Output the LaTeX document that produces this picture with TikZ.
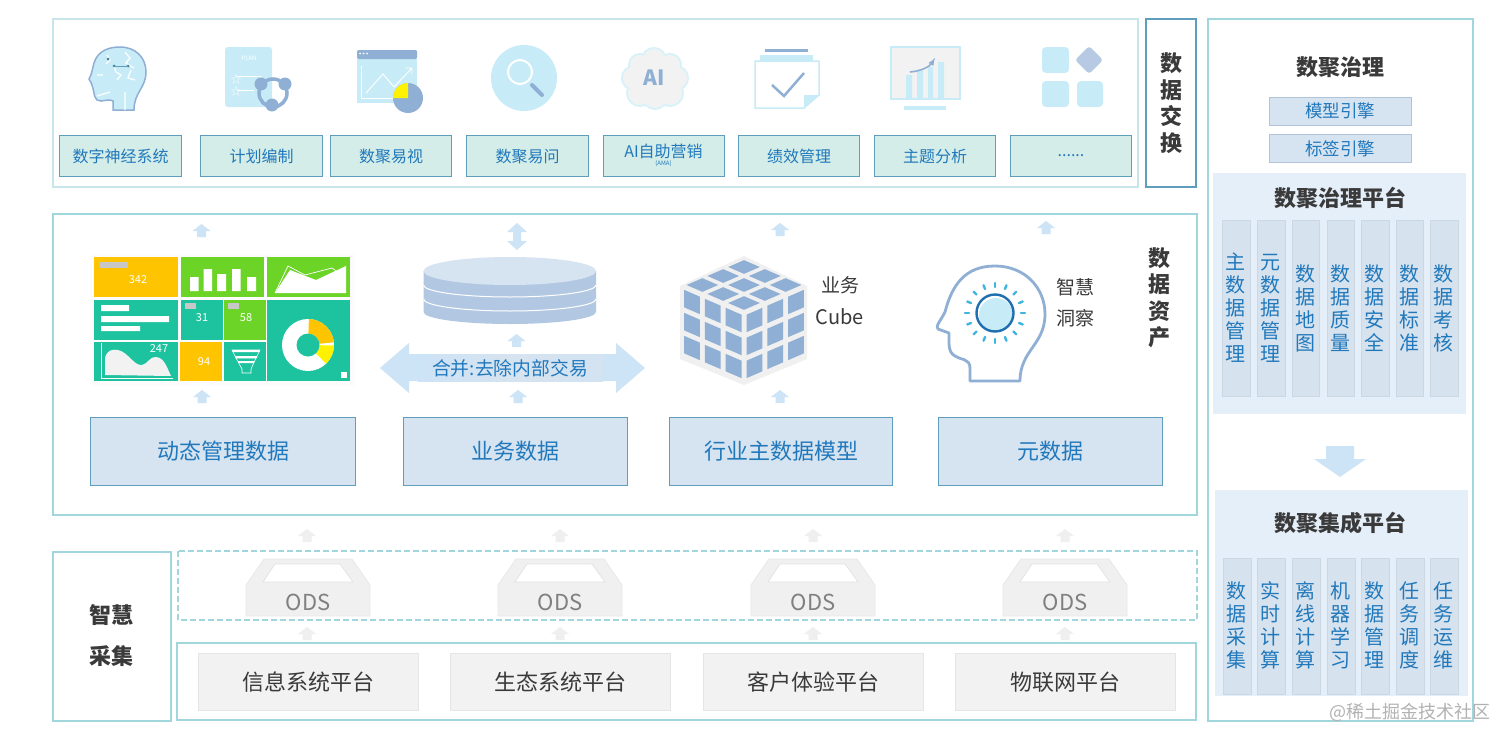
\documentclass[tikz,border=0pt]{standalone}
\usepackage{fontspec}
\setmainfont{Noto Sans CJK SC}
\usetikzlibrary{shadings}
\definecolor{panel}{HTML}{A0D6DC}
\definecolor{panelb}{HTML}{C6E6EA}
\definecolor{boxedge}{HTML}{5E9DBB}
\definecolor{tealfill}{HTML}{D4EDE8}
\definecolor{bluefill}{HTML}{D6E3F0}
\definecolor{bluetxt}{HTML}{2179BC}
\definecolor{dark}{HTML}{3A3A3A}
\definecolor{icon}{HTML}{C8ECF7}
\definecolor{icond}{HTML}{8FAFD4}
\definecolor{arrowb}{HTML}{CDE3F6}
\definecolor{arrowg}{HTML}{EFEFEF}
\definecolor{dyellow}{HTML}{FFC400}
\definecolor{dgreen}{HTML}{6CD427}
\definecolor{dteal}{HTML}{1DC39F}
\definecolor{platbg}{HTML}{E4EFFA}
\definecolor{colfill}{HTML}{D6E2EE}
\definecolor{cyl}{HTML}{B2C8E2}
\definecolor{ray}{HTML}{3DB5E0}
\definecolor{eyering}{HTML}{1F6FB0}
\tikzset{
  panelbox/.style={draw=panel,line width=1.1pt,fill=white},
  topcell/.style={draw=boxedge,line width=1pt,fill=tealfill,text=bluetxt,font=\fontsize{16}{19}\selectfont,minimum height=41pt,inner sep=0pt,anchor=north west},
  datacell/.style={draw=boxedge,line width=1pt,fill=bluefill,text=bluetxt,font=\fontsize{22}{26}\selectfont,minimum height=68pt,inner sep=0pt,anchor=north west},
  platcell/.style={draw=black!10,line width=.8pt,fill=black!5,text=dark,font=\fontsize{22}{26}\selectfont,minimum height=57pt,inner sep=0pt,anchor=north west},
  enginecell/.style={draw=black!10!icond!60!white,line width=1pt,fill=bluefill,text=bluetxt,font=\fontsize{17.5}{21}\selectfont,inner sep=0pt,minimum width=142pt,minimum height=28pt},
  colcell/.style={draw=black!5!colfill,line width=.8pt,fill=colfill,text=bluetxt,font=\fontsize{20}{23}\selectfont,align=center,inner sep=0pt,anchor=north west,minimum width=27.5pt},
  htitle/.style={font=\bfseries\fontsize{22}{26.5}\selectfont,text=dark,align=center,inner sep=0pt},
  plain/.style={text=dark,font=\fontsize{20}{24}\selectfont,inner sep=0pt},
  dnum/.style={text=white,font=\fontsize{11}{13}\selectfont,inner sep=0pt},
  odstxt/.style={text=black!50,font=\fontsize{22}{26}\selectfont,inner sep=0pt},
}
\newcommand\uparrowmark[3]{\fill[#3,shift={(#1,#2)}] (0,-7)--(9,0)--(4.5,0)--(4.5,6)--(-4.5,6)--(-4.5,0)--(-9,0)--cycle;}
\newcommand\odstray[2]{%
  \begin{scope}[shift={(#1,0)}]
    \fill[black!6,draw=black!9,line width=.8pt] (-44,559)--(44,559)--(62,585)--(62,616)--(-62,616)--(-62,585)--cycle;
    \fill[white,draw=black!12,line width=.6pt] (-33,564)--(32,564)--(45,582)--(-45,582)--cycle;
    \node[odstxt] (ods#2) at (0,602) {ODS};
  \end{scope}}
\begin{document}
\begin{tikzpicture}[x=1pt,y=-1pt]
\useasboundingbox (0,0) rectangle (1512,744);
\fill[white] (0,0) rectangle (1512,744);
% ---------- panels
\draw[draw=panelb,line width=1.2pt] (53,19) rectangle (1138,187);
\draw[draw=boxedge,line width=1.2pt] (1146,19) rectangle (1196,187);
\draw[panelbox] (53,214) rectangle (1197,515);
\draw[panelbox] (53,552) rectangle (171,721);
\draw[draw=panel,line width=1.1pt,dashed,dash pattern=on 6pt off 3pt] (178,551) rectangle (1197,620);
\draw[panelbox] (177,643) rectangle (1196,720);
\draw[panelbox] (1208,19) rectangle (1473,721);
% ---------- side titles
\node[htitle] (xch) at (1171,103) {数\\据\\交\\换};
\node[htitle] (asset) at (1159,298) {数\\据\\资\\产};
\node[htitle,font=\bfseries\fontsize{22}{41}\selectfont] (collect) at (111,636) {智慧\\采集};
% ---------- top cells
\node[topcell,minimum width=122pt] (c1) at (59,135) {数字神经系统};
\node[topcell,minimum width=122pt] (c2) at (200,135) {计划编制};
\node[topcell,minimum width=121pt] (c3) at (330,135) {数聚易视};
\node[topcell,minimum width=122pt] (c4) at (466,135) {数聚易问};
\node[topcell,minimum width=121pt] (c5) at (603,135) {};
\node[text=bluetxt,font=\fontsize{16}{19}\selectfont,inner sep=0pt] (c5a) at (663.5,151) {AI自助营销};
\node[text=bluetxt,font=\fontsize{6}{7}\selectfont,inner sep=0pt] (c5b) at (663.5,164) {(AMA)};
\node[topcell,minimum width=121pt] (c6) at (738,135) {绩效管理};
\node[topcell,minimum width=121pt] (c7) at (874,135) {主题分析};
\node[topcell,minimum width=121pt] (c8) at (1010,135) {......};
% ---------- icon 1 head
\draw[fill=icon,draw=icond,line width=1.5pt] (113,110) -- (113,101) .. controls (106,98) and (103,103) .. (97,100)
  .. controls (93,97) and (95,88) .. (89,79) .. controls (92,74) and (92,70) .. (94,63)
  .. controls (98,50) and (110,47) .. (120,47) .. controls (136,47) and (146,58) .. (146,72)
  .. controls (146,88) and (134,92) .. (134,110) -- cycle;
\draw[white,line width=1.2pt] (107,55)--(110,60)--(106,64) (125,52)--(130,58)--(126,63)--(134,68) (114,66)--(116,72)--(121,75)--(117,80) (131,70)--(128,78)--(135,80) (97,75)--(103,75) (125,110)--(125,92) (97,96)--(110,92);
\fill[boxedge!80!black] (108,59) circle (1.5) (114,66) circle (1.5) (128,66) circle (1.5);
\draw[boxedge,line width=.5pt] (114,66)--(128,66);
% ---------- icon 2 plan
\fill[icon,rounded corners=3pt] (225,47) rectangle (272,107);
\node[text=white,font=\fontsize{6}{7}\selectfont,inner sep=0pt] (plan) at (249,58) {PLAN};
\draw[white,line width=.8pt] (237,76)--(262,76) (237,90)--(254,90);
\node[text=white,font=\fontsize{11}{11}\selectfont,inner sep=0pt] (s1) at (236,79) {☆};
\node[text=white,font=\fontsize{11}{11}\selectfont,inner sep=0pt] (s2) at (236,91) {☆};
\draw[icond,line width=3.5pt] (273,93) circle (14);
\fill[icond] (261,84) circle (6.5) (285,84) circle (6.5) (272,105) circle (6.5);
% ---------- icon 3 chart
\fill[icon] (357,50) rectangle (417,103);
\fill[icond,rounded corners=1.5pt] (357,50) rectangle (417,59);
\fill[white] (360,53.5) circle (1) (363.5,53.5) circle (1) (367,53.5) circle (1);
\draw[white,line width=.9pt] (361,66)--(361,98)--(397,98);
\draw[white,line width=.9pt] (366,93)--(383,74)--(394,87)--(412,68) (406,68)--(412,68)--(412,74);
\fill[icond] (408,98) circle (15);
\begin{scope}[shift={(408,98)},x=1pt,y=1pt]
  \fill[yellow] (0,0)--(180:15) arc[start angle=180,end angle=90,radius=15]--cycle;
\end{scope}
% ---------- icon 4 magnifier
\fill[icon] (524,78) circle (33);
\draw[icond,line width=4pt,line cap=round] (532,85)--(542,95);
\draw[white,line width=2pt] (520,72) circle (12);
% ---------- icon 5 AI
\foreach \px/\py/\r in {640/65/10,654/60/11,670/65/10,634/78/11,676/78/11,640/93/12,670/93/12,655/97/11}{
  \draw[draw=icon!70!white,line width=4pt] (\px,\py) circle (\r);}
\foreach \px/\py/\r in {640/65/10,654/60/11,670/65/10,634/78/11,676/78/11,640/93/12,670/93/12,655/97/11}{
  \fill[black!5] (\px,\py) circle (\r);}
\fill[black!5] (640,62) rectangle (670,100);
\node[text=icond,font=\bfseries\fontsize{21}{24}\selectfont,inner sep=0pt] (ai) at (654,78) {AI};
% ---------- icon 6 check
\fill[icond] (765,49) rectangle (808,52);
\fill[icon] (760,55) rectangle (813,61);
\draw[fill=white,draw=icon,line width=1.5pt] (755,61)--(819,61)--(819,95)--(804,108)--(755,108)--cycle;
\fill[icon] (819,95)--(804,108)--(804,95)--cycle;
\draw[icond,line width=2.5pt] (772,85)--(784,96)--(804,73);
% ---------- icon 7 trend
\draw[fill=black!5,draw=icon,line width=1.5pt] (891,47) rectangle (960,99);
\fill[icon] (906,75) rectangle (912,98) (917,70) rectangle (923,98) (928,67) rectangle (933,98) (938,62) rectangle (944,98);
\fill[icon] (904,106) rectangle (946,110);
\draw[icond,line width=1.6pt,-latex] (910,72) .. controls (922,71) and (930,66) .. (935,58);
% ---------- icon 8 grid
\fill[icon,rounded corners=4pt] (1042,47) rectangle (1069,73);
\fill[icon,rounded corners=4pt] (1042,81) rectangle (1069,107);
\fill[icon,rounded corners=4pt] (1077,81) rectangle (1103,107);
\fill[icond!65!white,rounded corners=3pt] (1089,46)--(1103,60)--(1089,74)--(1075,60)--cycle;
% ---------- small blue arrows
\uparrowmark{201.5}{231}{arrowb}
\uparrowmark{202}{397}{arrowb}
\uparrowmark{516.5}{341}{arrowb}
\uparrowmark{518}{397}{arrowb}
\uparrowmark{780}{230}{arrowb}
\uparrowmark{780}{397}{arrowb}
\uparrowmark{1046}{228}{arrowb}
\fill[arrowb] (517,223)--(527,232)--(521,232)--(521,241)--(527,241)--(517,250)--(507,241)--(513,241)--(513,232)--(507,232)--cycle;
% ---------- data cells
\node[datacell,minimum width=265pt] (d1) at (90,417) {动态管理数据};
\node[datacell,minimum width=224pt] (d2) at (403,417) {业务数据};
\node[datacell,minimum width=223pt] (d3) at (669,417) {行业主数据模型};
\node[datacell,minimum width=224pt] (d4) at (938,417) {元数据};
% ---------- dashboard
\fill[black!1] (90,254) rectangle (355,386);
\fill[dyellow] (94,257) rectangle (178,297);
\fill[black!22] (100,262) rectangle (128,268);
\node[dnum] (n342) at (138,280) {342};
\fill[dgreen] (181,257) rectangle (264,297);
\fill[white] (190,277) rectangle (198.5,291) (203.5,269) rectangle (212,291) (217,274) rectangle (226,291) (232,269) rectangle (240.5,291) (247,277) rectangle (256,291);
\fill[dgreen] (267,257) rectangle (350,297);
\fill[white] (275,293)--(290,270)--(316,280)--(346,266)--(346,293)--cycle;
\draw[white,line width=.7pt] (275,293)--(288,266)--(305,275)--(332,268)--(346,278);
\fill[dteal] (94,300) rectangle (178,340);
\fill[white] (101,305) rectangle (129,311) (101,316) rectangle (169,322) (101,326) rectangle (140,331);
\fill[dteal] (181,300) rectangle (223,340);
\fill[black!22] (185,303) rectangle (196,309);
\node[dnum] (n31) at (202,318) {31};
\fill[dgreen] (224,300) rectangle (266,340);
\fill[black!22] (228,303) rectangle (239,309);
\node[dnum] (n58) at (246,318) {58};
\fill[dteal] (267,300) rectangle (350,381);
\fill[dteal] (94,342) rectangle (178,381);
\draw[white,line width=.7pt] (101,343)--(101,378)--(173,378);
\fill[black!5] (105,375)--(105,358) .. controls (107,350) and (112,349) .. (118,350) .. controls (128,352) and (134,366) .. (142,365) .. controls (148,364) and (150,356) .. (156,357) .. controls (164,358) and (166,365) .. (171,376) -- cycle;
\node[dnum] (n247) at (159,349) {247};
\fill[dyellow] (180,342) rectangle (222,381);
\node[dnum] (n94) at (204,362) {94};
\fill[dteal] (224,342) rectangle (266,381);
\draw[white,line width=.6pt] (232,350)--(260,350)--(256,358)--(236,358)--cycle;
\fill[white] (232.5,350) rectangle (259.5,352) (235,356) rectangle (257,358) (238,361) rectangle (254,363);
\draw[white,line width=.6pt] (236,358)--(242,369)--(242,373)--(251,373)--(251,369)--(256,358);
\begin{scope}[shift={(308,345)},x=1pt,y=1pt]
  \fill[white] (0,0) circle (26);
  \fill[dyellow] (88:11.5) -- (88:26) arc[start angle=88,end angle=6,radius=26] -- (6:11.5) arc[start angle=6,end angle=88,radius=11.5] -- cycle;
  \fill[yellow] (-1:11.5) -- (-1:26) arc[start angle=-1,end angle=-46,radius=26] -- (-46:11.5) arc[start angle=-46,end angle=-1,radius=11.5] -- cycle;
  \fill[dteal] (0,0) circle (11.5);
\end{scope}
\fill[white] (341,372) rectangle (347,378);
% ---------- cylinder
\begin{scope}[shift={(509.75,0)},x=1pt,y=-1pt]
  \begin{scope}[shift={(0,312)},x=1pt,y=1pt]
    \fill[cyl] (-86.25,41)--(-86.25,0) arc[start angle=180,end angle=360,x radius=86.25,y radius=12]--(86.25,41)--cycle;
    \draw[white,line width=1pt] (-86.25,13) arc[start angle=180,end angle=360,x radius=86.25,y radius=12];
    \draw[white,line width=1pt] (-86.25,27) arc[start angle=180,end angle=360,x radius=86.25,y radius=12];
    \fill[bluefill] (0,41) ellipse[x radius=86.25,y radius=14];
  \end{scope}
\end{scope}
% ---------- double arrow
\fill[arrowb] (380,368)--(409,343)--(409,354)--(616,354)--(616,343)--(645,368)--(616,393)--(616,381)--(409,381)--(409,393)--cycle;
\shade[left color=arrowb,right color=bluefill!70!arrowb,middle color=bluefill] (418,354) rectangle (603,381);
\node[text=bluetxt,font=\fontsize{18.8}{22}\selectfont,inner sep=0pt] (merge) at (510,368) {合并:去除内部交易};
% ---------- cube
\def\cx{744}\def\cy{313}
\fill[black!6] (744,256)--(807,286)--(807,359)--(744,385)--(680,359)--(680,286)--cycle;
\foreach \u in {0,1,2}{\foreach \v in {0,1,2}{
  \fill[icond] ({\cx+(\u+.12)*20.8-(\v+.12)*20.8},{\cy-(\u+.12)*9-(\v+.12)*9-1})
   --({\cx+(\u+.88)*20.8-(\v+.12)*20.8},{\cy-(\u+.88)*9-(\v+.12)*9-1})
   --({\cx+(\u+.88)*20.8-(\v+.88)*20.8},{\cy-(\u+.88)*9-(\v+.88)*9-1})
   --({\cx+(\u+.12)*20.8-(\v+.88)*20.8},{\cy-(\u+.12)*9-(\v+.88)*9-1})--cycle;
  \fill[icond] ({\cx-(\u+.12)*20.8},{\cy-(\u+.12)*9+(\v+.12)*23})
   --({\cx-(\u+.88)*20.8},{\cy-(\u+.88)*9+(\v+.12)*23})
   --({\cx-(\u+.88)*20.8},{\cy-(\u+.88)*9+(\v+.88)*23})
   --({\cx-(\u+.12)*20.8},{\cy-(\u+.12)*9+(\v+.88)*23})--cycle;
  \fill[icond] ({\cx+(\u+.12)*20.8},{\cy-(\u+.12)*9+(\v+.12)*23})
   --({\cx+(\u+.88)*20.8},{\cy-(\u+.88)*9+(\v+.12)*23})
   --({\cx+(\u+.88)*20.8},{\cy-(\u+.88)*9+(\v+.88)*23})
   --({\cx+(\u+.12)*20.8},{\cy-(\u+.12)*9+(\v+.88)*23})--cycle;
}}
\node[plain,font=\fontsize{19}{23}\selectfont] (yw) at (840,285) {业务};
\node[plain] (cube) at (840,317) {Cube};
% ---------- wisdom head
\draw[icond,line width=2.8pt,line join=round] (970,381) -- (970,368) .. controls (970,358) and (960,360) .. (955,356)
  .. controls (948,352) and (949,345) .. (949,333) -- (938,329) .. controls (935,326) and (940,322) .. (945,312)
  .. controls (952,285) and (965,266) .. (995,266) .. controls (1025,266) and (1045,288) .. (1045,314)
  .. controls (1045,345) and (1020,350) .. (1020,381) -- cycle;
\begin{scope}[shift={(995,313)},x=1pt,y=1pt]
  \foreach \a in {0,22.5,...,337.5}{\draw[ray,line width=2.4pt,line cap=round] (\a:26)--(\a:30);}
  \fill[icon] (1,-2) circle (17);
  \draw[eyering,line width=2.4pt] (0,0) circle (18.5);
\end{scope}
\node[plain,font=\fontsize{19}{23}\selectfont] (zh) at (1075,287) {智慧};
\node[plain,font=\fontsize{19}{23}\selectfont] (dc) at (1075,318) {洞察};
% ---------- ODS
\odstray{308}{1}
\odstray{560}{2}
\odstray{813}{3}
\odstray{1065}{4}
\foreach \x in {307,560,813,1065}{
  \uparrowmark{\x}{536}{arrowg}
  \uparrowmark{\x}{634}{arrowg}
}
% ---------- platforms
\node[platcell,minimum width=220pt] (p1) at (198,653) {信息系统平台};
\node[platcell,minimum width=220pt] (p2) at (450,653) {生态系统平台};
\node[platcell,minimum width=220pt] (p3) at (703,653) {客户体验平台};
\node[platcell,minimum width=220pt] (p4) at (955,653) {物联网平台};
% ---------- governance column
\node[htitle] (gov) at (1340,67) {数聚治理};
\node[enginecell] (e1) at (1340,111) {模型引擎};
\node[enginecell] (e2) at (1340,148.5) {标签引擎};
\fill[platbg] (1213,173) rectangle (1466,414);
\node[htitle] (gp) at (1340,198) {数聚治理平台};
\foreach \n/\x/\t in {a/1222/主\\数\\据\\管\\理,b/1257/元\\数\\据\\管\\理,c/1291.5/数\\据\\地\\图,d/1326.5/数\\据\\质\\量,e/1361/数\\据\\安\\全,f/1395.5/数\\据\\标\\准,g/1430/数\\据\\考\\核}{
  \node[colcell,minimum height=176pt] (g\n) at (\x,220) {};
  \node[text=bluetxt,font=\fontsize{20}{23}\selectfont,align=center,inner sep=0pt] (gt\n) at (\x+13.75,308) {\t};
}
\fill[arrowb] (1326,446)--(1354,446)--(1354,459)--(1366,459)--(1340,477)--(1314,459)--(1326,459)--cycle;
\fill[platbg] (1215,490) rectangle (1468,696);
\node[htitle] (ip) at (1340,523) {数聚集成平台};
\foreach \n/\x/\t in {a/1223/数\\据\\采\\集,b/1257/实\\时\\计\\算,c/1292/离\\线\\计\\算,d/1327/机\\器\\学\\习,e/1361/数\\据\\管\\理,f/1396/任\\务\\调\\度,g/1430/任\\务\\运\\维}{
  \node[colcell,minimum height=136pt] (i\n) at (\x,558) {};
  \node[text=bluetxt,font=\fontsize{20}{23}\selectfont,align=center,inner sep=0pt] (it\n) at (\x+13.75,625) {\t};
}
% ---------- watermark
\node[text=black!30,font=\fontsize{18}{22}\selectfont,inner sep=0pt] (wm) at (1410,712) {@稀土掘金技术社区};
\end{tikzpicture}
\end{document}
